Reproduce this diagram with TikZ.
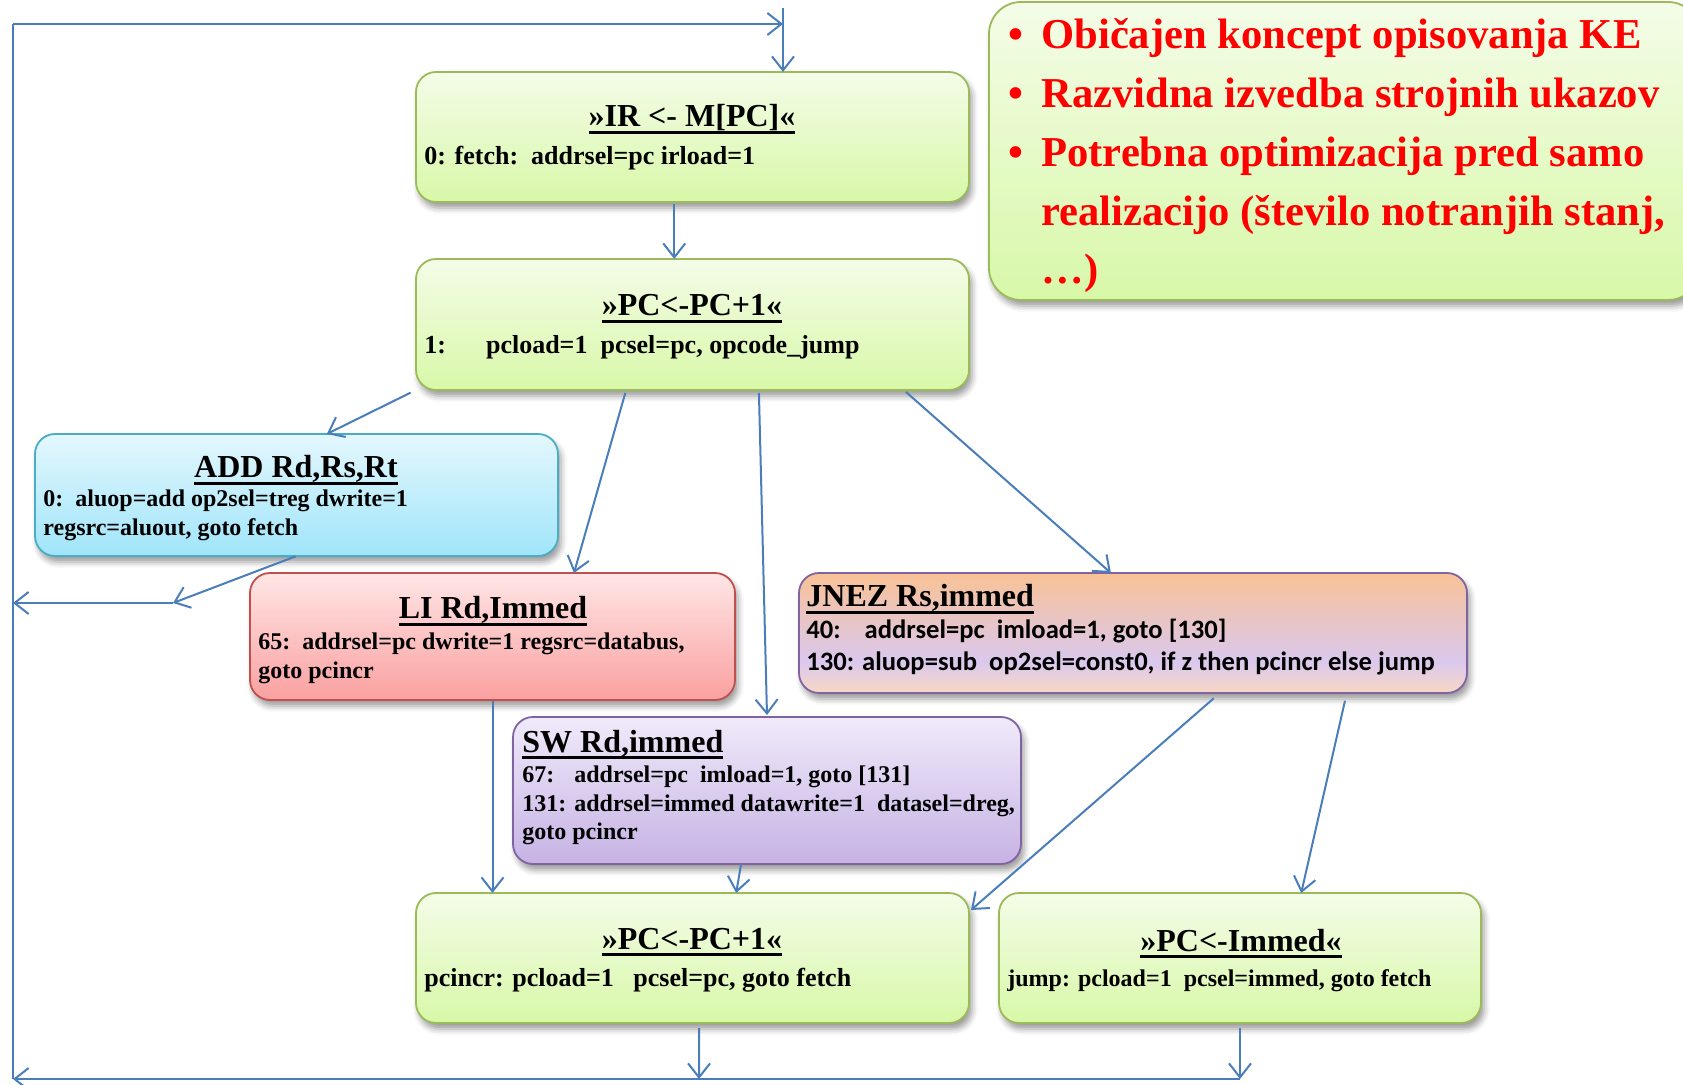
\documentclass[tikz,border=0pt]{standalone}
\usepackage{fontspec}
\setmainfont{Liberation Serif}
\newfontfamily\calibfont{Carlito}
\usetikzlibrary{arrows.meta,calc,shadows.blur}

\definecolor{conn}{RGB}{74,126,187}
\definecolor{gTop}{RGB}{244,252,232}
\definecolor{gBot}{RGB}{216,248,168}
\definecolor{gLine}{RGB}{155,187,89}
\definecolor{cTop}{RGB}{228,247,253}
\definecolor{cBot}{RGB}{160,229,250}
\definecolor{cLine}{RGB}{75,172,198}
\definecolor{rTop}{RGB}{255,230,230}
\definecolor{rBot}{RGB}{250,160,160}
\definecolor{rLine}{RGB}{192,80,77}
\definecolor{pTop}{RGB}{240,234,250}
\definecolor{pBot}{RGB}{198,178,228}
\definecolor{pLine}{RGB}{128,100,162}
\definecolor{oTop}{RGB}{248,194,150}
\definecolor{oMid}{RGB}{218,200,238}
\definecolor{oBot}{RGB}{248,216,194}
\definecolor{noteRed}{RGB}{255,0,0}

% orange-to-lavender-to-peach fill of the JNEZ box
\pgfdeclareverticalshading{jnezshade}{100bp}{color(0bp)=(oBot); color(25bp)=(oBot); color(38bp)=(oMid); color(75bp)=(oTop); color(100bp)=(oTop)}

% underlined box title
\newcommand{\ultitle}[1]{\setbox0=\hbox{#1}\leavevmode\rlap{\vrule height -2pt depth 3.3pt width \wd0}\box0}

\begin{document}
\begin{tikzpicture}[x=0.5pt,y=-0.5pt,
  box/.style={draw, line width=0.9pt, rounded corners=10pt, inner sep=0pt, outer sep=0pt,
    blur shadow={shadow xshift=1.5pt, shadow yshift=-3pt, shadow blur radius=3pt, shadow opacity=40}},
  greenbox/.style={box, draw=gLine, top color=gTop, bottom color=gBot},
  cyanbox/.style={box, draw=cLine, top color=cTop, bottom color=cBot},
  redbox/.style={box, draw=rLine, top color=rTop, bottom color=rBot},
  purplebox/.style={box, draw=pLine, top color=pTop, bottom color=pBot},
  orangebox/.style={box, draw=pLine, shading=jnezshade},
  line/.style={draw=conn, line width=1pt},
  flow/.style={line, -{Straight Barb[length=7pt,width=11pt]}},
  ttl/.style={font=\bfseries\fontsize{16}{19}\selectfont, inner sep=0pt},
  txt/.style={font=\bfseries\fontsize{13}{15}\selectfont, inner sep=0pt, anchor=base west},
  stxt/.style={font=\bfseries\fontsize{12}{14}\selectfont, inner sep=0pt, anchor=base west},
  ctxt/.style={font=\calibfont\bfseries\fontsize{13.3}{15}\selectfont, inner sep=0pt, anchor=base west},
  note/.style={font=\bfseries\fontsize{21.3}{25}\selectfont, text=noteRed, inner sep=0pt, anchor=base west},
]
\useasboundingbox (0,0) rectangle (1683,1085);

% state boxes
\node[greenbox, minimum width=276.5pt, minimum height=65pt] (ir) at (692.5,137) {};
\node[greenbox, minimum width=276.5pt, minimum height=65.5pt] (pc1) at (692.5,324.5) {};
\node[cyanbox, minimum width=261.5pt, minimum height=61pt] (add) at (296.5,495) {};
\node[redbox, minimum width=242.5pt, minimum height=63.5pt] (li) at (492.5,636.5) {};
\node[orangebox, minimum width=334pt, minimum height=60pt] (jnez) at (1133,633) {};
\node[purplebox, minimum width=254pt, minimum height=73.5pt] (sw) at (767,790.5) {};
\node[greenbox, minimum width=276.5pt, minimum height=65pt] (pci) at (692.5,958) {};
\node[greenbox, minimum width=241pt, minimum height=65pt] (pcim) at (1240,958) {};
\node[greenbox, rounded corners=16pt, minimum width=355.5pt, minimum height=149pt] (notebox) at (1344.5,151) {};

% box texts
\node[ttl, anchor=base] (irT) at (692,127) {\ultitle{»IR <- M[PC]«}};
\node[txt] (irB) at (424,165) {0: fetch:\ \ addrsel=pc irload=1};

\node[ttl, anchor=base] (pc1T) at (692,316) {\ultitle{»PC<-PC+1«}};
\node[txt] (pc1B) at (424,354) {1:\hspace{20pt}pcload=1\ \ pcsel=pc, opcode\_jump};

\node[ttl, anchor=base] (addT) at (296,478) {\ultitle{ADD Rd,Rs,Rt}};
\node[stxt] (addB1) at (43,507) {0:\ \ aluop=add op2sel=treg dwrite=1};
\node[stxt] (addB2) at (43,536) {regsrc=aluout, goto fetch};

\node[ttl, anchor=base] (liT) at (493,619) {\ultitle{LI Rd,Immed}};
\node[stxt] (liB1) at (258,650) {65:\ \ addrsel=pc dwrite=1 regsrc=databus,};
\node[stxt] (liB2) at (258,679) {goto pcincr};

\node[ttl, anchor=base west] (jnezT) at (806,607) {\ultitle{JNEZ Rs,immed}};
\node[ctxt] (jnezB1) at (806,639) {40:\hspace{12pt}addrsel=pc\ \ imload=1, goto [130]};
\node[ctxt] (jnezB2) at (806,671) {130: aluop=sub\ \ op2sel=const0, if z then pcincr else jump};

\node[ttl, anchor=base west] (swT) at (522,752) {\ultitle{SW Rd,immed}};
\node[stxt] (swB1) at (522,783) {67:\hspace{10pt}addrsel=pc\ \ imload=1, goto [131]};
\node[stxt] (swB2) at (522,812) {131: addrsel=immed datawrite=1\ \ datasel=dreg,};
\node[stxt] (swB3) at (522,839) {goto pcincr};

\node[ttl, anchor=base] (pciT) at (692,949) {\ultitle{»PC<-PC+1«}};
\node[txt] (pciB) at (424,986) {pcincr: pcload=1\ \ \ pcsel=pc, goto fetch};

\node[ttl, anchor=base] (pcimT) at (1241,951) {\ultitle{»PC<-Immed«}};
\node[stxt] (pcimB) at (1007,986) {jump: pcload=1\ \ pcsel=immed, goto fetch};

% remarks
\node[note] (n1b) at (1008,49) {•};
\node[note] (n1) at (1041,49) {Običajen koncept opisovanja KE};
\node[note] (n2b) at (1008,108) {•};
\node[note] (n2) at (1041,108) {Razvidna izvedba strojnih ukazov};
\node[note] (n3b) at (1008,167) {•};
\node[note] (n3) at (1041,167) {Potrebna optimizacija pred samo};
\node[note] (n4) at (1041,226) {realizacijo (število notranjih stanj,};
\node[note] (n5) at (1041,284) {…)};

% loop-back path
\coordinate (tl) at (13,24);
\coordinate (tr) at (783,24);
\coordinate (tt) at (783,8);
\coordinate (bl) at (13,1079);
\coordinate (b1) at (699,1079);
\coordinate (b2) at (1240,1079);
\coordinate (addj) at (173,603);
\coordinate (addl) at (13,603);

\draw[line] (bl) -- (tl);
\draw[flow] (tl) -- (tr);
\draw[flow] (tt) -- (tt |- ir.north);

% transitions
\draw[flow, shorten <=1pt] ($(ir.south west)!0.467!(ir.south east)$) coordinate (irs) -- (irs |- pc1.north);
\draw[flow, shorten <=3pt] (pc1.south west) -- ($(add.north west)!0.558!(add.north east)$);
\draw[flow, shorten <=1.5pt] ($(pc1.south west)!0.38!(pc1.south east)$) -- ($(li.north west)!0.668!(li.north east)$);
\draw[flow, shorten <=1.5pt] ($(pc1.south west)!0.62!(pc1.south east)$) -- ($(sw.north)+(0,-2)$);
\draw[flow, shorten <=1.5pt] ($(pc1.south west)!0.882!(pc1.south east)$) -- ($(jnez.north west)!0.467!(jnez.north east)$);
\draw[flow, shorten <=0.5pt] (add.south) -- (addj);
\draw[flow] (addj) -- (addl);
\draw[flow, shorten <=0.5pt] (li.south) -- (li.south |- pci.north);
\draw[flow, shorten <=0.5pt] ($(sw.south west)!0.449!(sw.south east)$) -- ($(pci.north west)!0.579!(pci.north east)$);
\draw[flow, shorten <=4pt] ($(jnez.south west)!0.63!(jnez.south east)$) -- ($(pci.north east)+(2,17)$);
\draw[flow, shorten <=4pt] ($(jnez.south west)!0.82!(jnez.south east)$) -- ($(pcim.north west)!0.627!(pcim.north east)$);
\draw[flow, shorten <=2.5pt] ($(pci.south west)!0.512!(pci.south east)$) -- (b1);
\draw[flow, shorten <=2.5pt] (pcim.south) -- (b2);
\draw[flow] (b2) -- (bl);
\end{tikzpicture}
\end{document}
